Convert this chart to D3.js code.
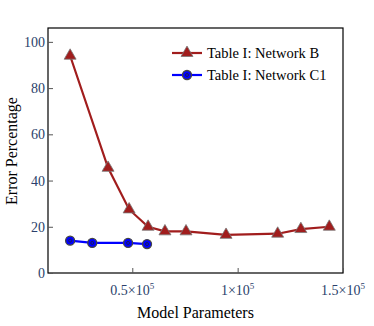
<!DOCTYPE html>
<html>
<head>
<meta charset="utf-8">
<script src="https://cdn.jsdelivr.net/npm/d3@7"></script>
<style>
  body { margin: 0; background: #fff; }
  text { font-family: "Liberation Serif", "Times New Roman", serif; }
</style>
</head>
<body>
<div id="chart"></div>
<script>
// series data
var paramsB = [20500, 38500, 48500, 57500, 65500, 75500, 94500, 119000, 130000, 143500];
var errorB = [94, 45.5, 27.5, 20, 18, 18, 16.5, 17, 19, 20];
var paramsC1 = [20500, 31000, 48000, 57000];
var errorC1 = [14, 13, 13, 12.5];
var seriesNames = ["Table I: Network B", "Table I: Network C1"];
var yTicks = [0, 20, 40, 60, 80, 100];
var xTicks = [50000, 100000, 150000];
var xTickLabels = ["0.5", "1", "1.5"];

const
    width = 374,
    height = 326,
    mLeft = 48, mRight = 343, mTop = 28, mBottom = 273;

var svg = d3
    .select("#chart")
    .append("svg")
    .attr("width", width)
    .attr("height", height)

var xscale = d3.scaleLinear().domain([10000, 150000]).range([mLeft, mRight]);
var yscale = d3.scaleLinear().domain([0, 106]).range([mBottom, mTop]);

var tickColor = "#2b3f6b";

// frame
svg.append("rect")
    .attr("x", mLeft).attr("y", mTop)
    .attr("width", mRight - mLeft).attr("height", mBottom - mTop)
    .style("fill", "none").style("stroke", "#000").style("stroke-width", 1.2)

var yaxis = svg.append("g")
    .attr("transform", `translate(${mLeft},0)`)
    .call(d3.axisRight(yscale).tickValues(yTicks).tickSize(5).tickFormat(""))
yaxis.select(".domain").remove()
yaxis.selectAll("line").style("stroke", "#555")

svg.selectAll(".ylab")
    .data(yTicks)
    .enter()
    .append("text")
    .attr("x", mLeft - 3)
    .attr("y", d => yscale(d) + 5)
    .attr("text-anchor", "end")
    .style("font-size", "14px")
    .style("fill", tickColor)
    .text(d => d)

var xaxis = svg.append("g")
    .attr("transform", `translate(0,${mBottom})`)
    .call(d3.axisTop(xscale).tickValues(xTicks).tickSize(5).tickFormat(""))
xaxis.select(".domain").remove()
xaxis.selectAll("line").style("stroke", "#555")

var xl = svg.selectAll(".xlab")
    .data(xTicks)
    .enter()
    .append("text")
    .attr("x", d => xscale(d))
    .attr("y", mBottom + 22)
    .attr("text-anchor", "middle")
    .style("font-size", "14px")
    .style("fill", tickColor)
xl.append("tspan").text((d, i) => xTickLabels[i] + "×10")
xl.append("tspan").attr("dy", -6).style("font-size", "9px").text("5")

svg.append("text")
    .attr("x", (mLeft + mRight) / 2)
    .attr("y", 318)
    .attr("text-anchor", "middle")
    .style("font-size", "16px")
    .text("Model Parameters")

svg.append("text")
    .attr("transform", "translate(17,151) rotate(-90)")
    .attr("text-anchor", "middle")
    .style("font-size", "16px")
    .text("Error Percentage")

var line = d3.line().x(d => xscale(d[0])).y(d => yscale(d[1]));

var dataB = paramsB.map((p, i) => [p, errorB[i]]);
var dataC = paramsC1.map((p, i) => [p, errorC1[i]]);

var red = "#a11d1d", blue = "#0000ff";
var tri = d3.symbol().type(d3.symbolTriangle).size(62);

svg.append("path").attr("d", line(dataB))
    .style("fill", "none").style("stroke", red).style("stroke-width", 2.2)
svg.selectAll(".triB")
    .data(dataB)
    .enter()
    .append("path")
    .attr("d", tri)
    .attr("transform", d => `translate(${xscale(d[0])},${yscale(d[1])})`)
    .style("fill", red).style("stroke", "#777").style("stroke-width", 0.8)

svg.append("path").attr("d", line(dataC))
    .style("fill", "none").style("stroke", blue).style("stroke-width", 2.2)

function circleMarker(g, x, y) {
    g.append("circle").attr("cx", x).attr("cy", y).attr("r", 4.5)
        .style("fill", blue).style("stroke", "#444").style("stroke-width", 1.3)
    g.append("circle").attr("cx", x).attr("cy", y).attr("r", 1.5)
        .style("fill", "none").style("stroke", "#1c1c55").style("stroke-width", 1)
}
dataC.forEach(d => circleMarker(svg, xscale(d[0]), yscale(d[1])))

// legend
var legY = [53, 75];
svg.append("line").attr("x1", 172).attr("x2", 202).attr("y1", legY[0]).attr("y2", legY[0])
    .style("stroke", red).style("stroke-width", 2.2)
svg.append("path").attr("d", tri).attr("transform", `translate(187,${legY[0]})`)
    .style("fill", red).style("stroke", "#777").style("stroke-width", 0.8)
svg.append("line").attr("x1", 172).attr("x2", 202).attr("y1", legY[1]).attr("y2", legY[1])
    .style("stroke", blue).style("stroke-width", 2.2)
circleMarker(svg, 187, legY[1])

svg.selectAll(".leg")
    .data(seriesNames)
    .enter()
    .append("text")
    .attr("x", 207)
    .attr("y", (d, i) => legY[i] + 5)
    .style("font-size", "14.5px")
    .text(d => d)
</script>
</body>
</html>
